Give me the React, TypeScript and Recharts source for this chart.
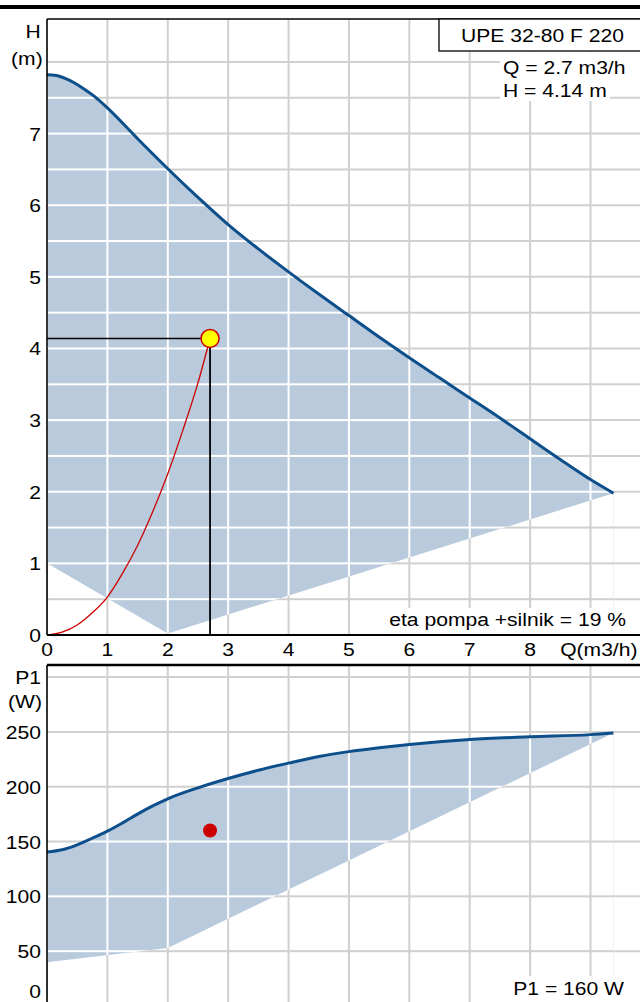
import React from 'react';
import {
  ComposedChart,
  Area,
  Line,
  XAxis,
  YAxis,
  CartesianGrid,
  ReferenceLine,
  ReferenceDot,
} from 'recharts';

// ---------- data ----------
const qTicks = [0, 1, 2, 3, 4, 5, 6, 7, 8, 9];
const qTickLabels = ['0', '1', '2', '3', '4', '5', '6', '7', '8', 'Q(m3/h)'];
const qGrid = [1, 2, 3, 4, 5, 6, 7, 8, 9];

const hTicks = [0, 1, 2, 3, 4, 5, 6, 7, 8];
const hTickLabels = ['0', '1', '2', '3', '4', '5', '6', '7', '(m)'];
const hGrid = [0.5, 1, 1.5, 2, 2.5, 3, 3.5, 4, 4.5, 5, 5.5, 6, 6.5, 7, 7.5, 8];

const pTicks = [0, 50, 100, 150, 200, 250, 300];
const pTickLabels = ['0', '50', '100', '150', '200', '250', 'P1'];
const pGrid = [50, 100, 150, 200, 250, 300];

// Max head curve (upper edge of operating area)
const headQ = [0, 0.15, 0.3, 0.45, 0.6, 0.8, 1.0, 1.5, 2.0, 2.5, 3.0, 3.5, 4.0, 4.5, 5.0, 5.5, 6.0, 6.5, 7.0, 7.5, 8.0, 8.5, 9.0, 9.38];
const headH = [7.82, 7.81, 7.77, 7.71, 7.63, 7.51, 7.36, 6.93, 6.51, 6.11, 5.73, 5.39, 5.07, 4.76, 4.46, 4.16, 3.87, 3.59, 3.31, 3.03, 2.74, 2.45, 2.17, 1.98];
// Min head boundary (lower edge of operating area)
const headMinQ = [0, 2.0, 9.38];
const headMinH = [1.0, 0.02, 1.98];
// System curve
const sysQ = [0, 0.25, 0.5, 0.75, 1.0, 1.25, 1.5, 1.75, 2.0, 2.25, 2.5, 2.7];
const sysH = [0, 0.04, 0.14, 0.31, 0.53, 0.86, 1.25, 1.72, 2.25, 2.86, 3.52, 4.14];
// Max power curve
const powerQ = [0, 0.25, 0.5, 0.75, 1.0, 1.25, 1.5, 1.75, 2.0, 2.5, 3.0, 3.5, 4.0, 4.5, 5.0, 5.5, 6.0, 7.0, 8.0, 9.0, 9.38];
const powerP = [140.5, 142.5, 147, 153, 159.5, 167, 175, 182.5, 189, 199, 207.5, 215, 221.5, 227.5, 232, 235.5, 238.5, 243, 245.5, 247.5, 249];
// Min power boundary
const powerMinQ = [0, 2.0, 9.38];
const powerMinP = [40, 53, 249];

const opQ = 2.7;
const opH = 4.14;
const opP = 160;

const titleText = 'UPE 32-80 F 220';
const qText = 'Q = 2.7 m3/h';
const hText = 'H = 4.14 m';
const etaText = 'eta pompa +silnik = 19 %';
const p1Text = 'P1 = 160 W';

// ---------- layout / style ----------
const FONT = '"Liberation Sans", Arial, Helvetica, sans-serif';
const FS = 19;
const SX = 1.11;
const FILL = '#b8cadb';
const CURVE = '#0d4f8b';
const RED = '#cc0000';
const GRID = '#d0d0d0';

const W = 640;
const LEFT = 47;
const QMAX = 9.82;
const HMAX = 8.6;
const PMAX = 311;
const TOP1 = 19;
const BOT1 = 635;
const TOP2 = 665;
const BOT2 = 1006;

const TW = (W - LEFT) / QMAX;
const TH = ((BOT1 - TOP1) / HMAX) * 0.5;
const BH = ((BOT2 - TOP2) / PMAX) * 50;

type Row = { q: number; [k: string]: number };
function buildRows(series: { key: string; xs: number[]; ys: number[] }[]): Row[] {
  const map = new Map<number, Row>();
  series.forEach((s) => {
    s.xs.forEach((x, i) => {
      const r = map.get(x) || { q: x };
      r[s.key] = s.ys[i];
      map.set(x, r);
    });
  });
  return Array.from(map.values()).sort((a, b) => a.q - b.q);
}

const topRows = buildRows([
  { key: 'h', xs: headQ, ys: headH },
  { key: 'hMin', xs: headMinQ, ys: headMinH },
  { key: 'sys', xs: sysQ, ys: sysH },
]);
const botRows = buildRows([
  { key: 'p', xs: powerQ, ys: powerP },
  { key: 'pMin', xs: powerMinQ, ys: powerMinP },
]);

const ST = ({ x, y, anchor = 'start', children }: any) => (
  <text
    transform={`translate(${x},${y}) scale(${SX},1)`}
    textAnchor={anchor}
    fontSize={FS}
    fontFamily={FONT}
    fill="#000"
  >
    {children}
  </text>
);

const QTick = (props: any) => {
  const { x, y, payload } = props;
  const i = qTicks.indexOf(payload.value);
  if (i === qTicks.length - 1) {
    return <ST x={x + 47} y={y + 21} anchor="end">{qTickLabels[i]}</ST>;
  }
  return <ST x={x} y={y + 21} anchor="middle">{qTickLabels[i]}</ST>;
};

const HTick = (props: any) => {
  const { x, y, payload } = props;
  const i = hTicks.indexOf(payload.value);
  if (i === hTicks.length - 1) {
    return (
      <g>
        <ST x={x - 6.3} y={y - 24} anchor="end">H</ST>
        <ST x={x - 4.3} y={y + 3.3} anchor="end">{hTickLabels[i]}</ST>
      </g>
    );
  }
  return <ST x={x - 6} y={y + 7} anchor="end">{hTickLabels[i]}</ST>;
};

const PTick = (props: any) => {
  const { x, y, payload } = props;
  const i = pTicks.indexOf(payload.value);
  if (i === pTicks.length - 1) {
    return (
      <g>
        <ST x={x - 6} y={y + 7} anchor="end">{pTickLabels[i]}</ST>
        <ST x={x - 5} y={y + 31} anchor="end">(W)</ST>
      </g>
    );
  }
  return <ST x={x - 6} y={Math.min(y + 7, 998)} anchor="end">{pTickLabels[i]}</ST>;
};

const GridPattern = ({ id, w, h, ox, oy, bg, line }: any) => (
  <pattern id={id} patternUnits="userSpaceOnUse" x={ox} y={oy} width={w} height={h}>
    <rect x={0} y={0} width={w} height={h} fill={bg} />
    <rect x={0} y={0} width={1} height={h} fill={line} />
    <rect x={w - 1} y={0} width={1} height={h} fill={line} />
    <rect x={0} y={0} width={w} height={1} fill={line} />
    <rect x={0} y={h - 1} width={w} height={1} fill={line} />
  </pattern>
);

export default function App() {
  return (
    <div
      style={{
        position: 'absolute',
        left: 0,
        top: 0,
        width: W,
        height: 1002,
        overflow: 'hidden',
        background: '#fff',
        fontFamily: FONT,
      }}
    >
      <div style={{ position: 'absolute', left: 0, top: 5, width: W, height: 4, background: '#000' }} />

      <div style={{ position: 'absolute', left: 0, top: 0 }}>
        <ComposedChart width={W} height={660} data={topRows} margin={{ top: TOP1, right: 0, bottom: 0, left: 0 }}>
          <defs>
            <GridPattern id="topFill" w={TW} h={TH} ox={LEFT} oy={BOT1} bg={FILL} line="#ffffff" />
            <GridPattern id="topBlank" w={TW} h={TH} ox={LEFT} oy={BOT1} bg="#ffffff" line={GRID} />
          </defs>
          <CartesianGrid stroke={GRID} strokeWidth={2} horizontalValues={hGrid} verticalValues={qGrid} />
          <XAxis
            type="number"
            dataKey="q"
            domain={[0, QMAX]}
            ticks={qTicks}
            tick={(p: any) => <QTick {...p} />}
            tickLine={false}
            tickSize={0}
            tickMargin={0}
            axisLine={{ stroke: '#000', strokeWidth: 2 }}
            height={25}
            allowDataOverflow
            interval={0}
          />
          <YAxis
            type="number"
            domain={[0, HMAX]}
            ticks={hTicks}
            tick={(p: any) => <HTick {...p} />}
            tickLine={false}
            tickSize={0}
            tickMargin={0}
            axisLine={{ stroke: '#000', strokeWidth: 1.6 }}
            width={LEFT}
            allowDataOverflow
            interval={0}
          />
          <Area dataKey="h" type="monotone" fill="url(#topFill)" fillOpacity={1} stroke="none" connectNulls baseValue={0} isAnimationActive={false} />
          <Area dataKey="hMin" type="linear" fill="url(#topBlank)" fillOpacity={1} stroke="none" connectNulls baseValue={0} isAnimationActive={false} />
          <Line dataKey="h" type="monotone" stroke={CURVE} strokeWidth={3} dot={false} connectNulls isAnimationActive={false} />
          <Line dataKey="sys" type="monotone" stroke={RED} strokeWidth={1.3} dot={false} connectNulls isAnimationActive={false} />
          <ReferenceLine y={HMAX} stroke="#000" strokeWidth={1.5} />
          <ReferenceLine segment={[{ x: 0, y: opH }, { x: opQ, y: opH }]} stroke="#000" strokeWidth={1.6} />
          <ReferenceLine segment={[{ x: opQ, y: opH }, { x: opQ, y: 0 }]} stroke="#000" strokeWidth={1.8} />
          <ReferenceDot x={opQ} y={opH} r={9} fill="#ffff00" stroke={RED} strokeWidth={1.5} />
        </ComposedChart>
      </div>

      <div style={{ position: 'absolute', left: 0, top: 0 }}>
        <ComposedChart width={W} height={BOT2} data={botRows} margin={{ top: TOP2, right: 0, bottom: 0, left: 0 }}>
          <defs>
            <GridPattern id="botFill" w={TW} h={BH} ox={LEFT} oy={BOT2} bg={FILL} line="#ffffff" />
            <GridPattern id="botBlank" w={TW} h={BH} ox={LEFT} oy={BOT2} bg="#ffffff" line={GRID} />
          </defs>
          <CartesianGrid stroke={GRID} strokeWidth={2} horizontalValues={pGrid} verticalValues={qGrid} />
          <XAxis type="number" dataKey="q" domain={[0, QMAX]} ticks={qTicks} hide allowDataOverflow />
          <YAxis
            type="number"
            domain={[0, PMAX]}
            ticks={pTicks}
            tick={(p: any) => <PTick {...p} />}
            tickLine={false}
            tickSize={0}
            tickMargin={0}
            axisLine={{ stroke: '#000', strokeWidth: 1.6 }}
            width={LEFT}
            allowDataOverflow
            interval={0}
          />
          <Area dataKey="p" type="monotone" fill="url(#botFill)" fillOpacity={1} stroke="none" connectNulls baseValue={0} isAnimationActive={false} />
          <Area dataKey="pMin" type="linear" fill="url(#botBlank)" fillOpacity={1} stroke="none" connectNulls baseValue={0} isAnimationActive={false} />
          <Line dataKey="p" type="monotone" stroke={CURVE} strokeWidth={3} dot={false} connectNulls isAnimationActive={false} />
          <ReferenceLine y={PMAX} stroke="#000" strokeWidth={2.5} />
          <ReferenceDot x={opQ} y={opP} r={7} fill={RED} stroke="none" />
        </ComposedChart>
      </div>

      <svg width={W} height={1002} style={{ position: 'absolute', left: 0, top: 0 }}>
        <rect x={439} y={19} width={220} height={32} fill="#fff" stroke="#000" strokeWidth={1.3} />
        <ST x={461} y={42}>{titleText}</ST>
        <rect x={500} y={52} width={140} height={28} fill="#fff" />
        <rect x={500} y={80} width={110} height={21} fill="#fff" />
        <ST x={503} y={74}>{qText}</ST>
        <ST x={503} y={97}>{hText}</ST>
        <rect x={384} y={608} width={256} height={26} fill="#fff" />
        <ST x={626} y={626} anchor="end">{etaText}</ST>
        <rect x={511} y={976} width={129} height={26} fill="#fff" />
        <ST x={624} y={995} anchor="end">{p1Text}</ST>
      </svg>
    </div>
  );
}
